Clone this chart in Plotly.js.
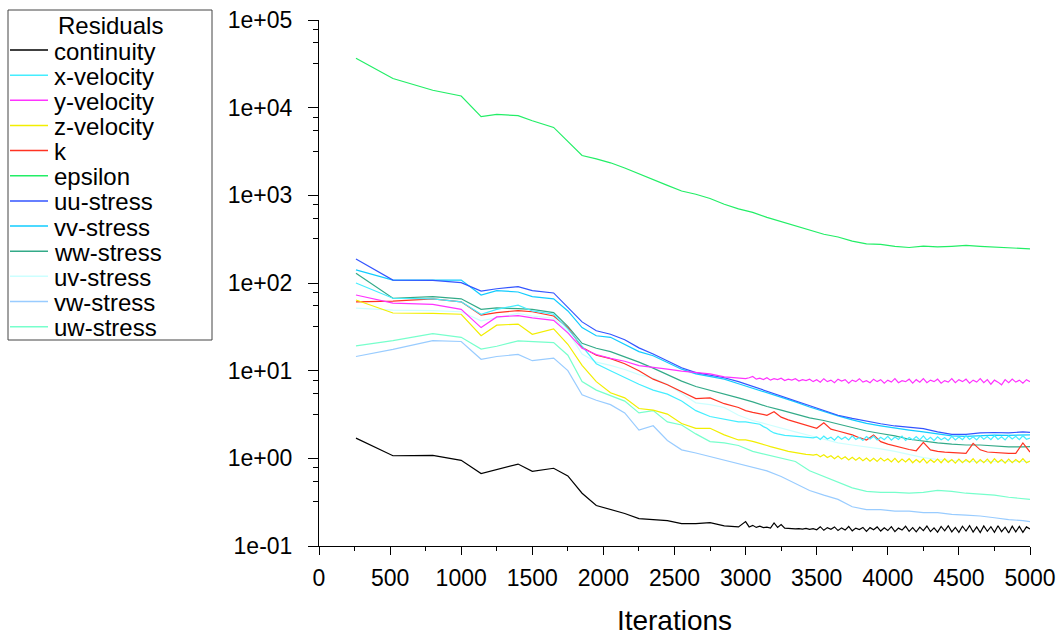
<!DOCTYPE html>
<html>
<head>
<meta charset="utf-8">
<script src="https://cdn.plot.ly/plotly-3.0.1.min.js"></script>
<style>
html,body{margin:0;padding:0;background:#ffffff;}
#chart{width:1059px;height:636px;}
</style>
</head>
<body>
<div id="chart"></div>
<script>
// ---------------- data ----------------
const seriesNames = ["continuity","x-velocity","y-velocity","z-velocity","k","epsilon",
  "uu-stress","vv-stress","ww-stress","uv-stress","vw-stress","uw-stress"];
const seriesColors = ["#000000","#44eeff","#ff33ff","#f2ee00","#ff3322","#22ee66",
  "#3355ff","#11ccff","#33aa88","#ccffff","#99ccff","#77ffcc"];

const yTickVals = [0.1, 1, 10, 100, 1000, 10000, 100000];
const yTickText = ["1e-01","1e+00","1e+01","1e+02","1e+03","1e+04","1e+05"];

// iterations for smooth residuals
const iterSmooth = [260,520,800,1000,1140,1250,1400,1500,1650,1750,1850,1950,2050,2150,2250,2350,2450,2550,2650,2750,2850,2950,
  3050,3150,3250,3350,3450,3550,3650,3750,3850,3950,4050,4150,4250,4350,4450,4550,4650,4750,4850,4950,5000];
// iterations for k (spiky tail)
const iterSpiky = [260,520,800,1000,1140,1250,1400,1500,1650,1750,1850,1950,2050,2150,2250,2350,2450,2550,2650,2750,2850,2950,
  3000,3050,3100,3150,3200,3250,3300,3350,3400,3450,3500,3550,3600,3650,3700,3750,3800,3850,3900,3950,
  4000,4050,4100,4150,4200,4250,4300,4350,4400,4450,4500,4550,4600,4650,4700,4750,4800,4850,4900,4950,5000];
// iterations for noisy residuals (fine tail)
const iterNoisy = [260,520,800,1000,1140,1250,1400,1500,1650,1750,1850,1950,2050,2150,2250,2350,2450,2550,2650,2750,2850,2950,
  3000,3025,3050,3075,3100,3125,3150,3175,3200,3225,3250,3275,3300,3325,3350,3375,3400,3425,3450,3475,
  3500,3525,3550,3575,3600,3625,3650,3675,3700,3725,3750,3775,3800,3825,3850,3875,3900,3925,3950,3975,
  4000,4025,4050,4075,4100,4125,4150,4175,4200,4225,4250,4275,4300,4325,4350,4375,4400,4425,4450,4475,
  4500,4525,4550,4575,4600,4625,4650,4675,4700,4725,4750,4775,4800,4825,4850,4875,4900,4925,4950,4975,5000];

const continuity = [1.70,1.07,1.08,0.95,0.67,0.75,0.86,0.71,0.77,0.63,0.40,0.29,0.26,0.235,0.205,0.20,0.195,0.18,0.18,0.185,0.17,0.165,
  0.19,0.165,0.172,0.163,0.168,0.162,0.164,0.160,0.183,0.163,0.176,0.160,0.158,0.159,0.157,0.158,0.156,0.159,0.155,0.158,
  0.153,0.166,0.151,0.162,0.155,0.165,0.150,0.161,0.152,0.167,0.149,0.160,0.154,0.163,0.147,0.162,0.153,0.165,0.148,0.161,
  0.150,0.166,0.146,0.160,0.152,0.168,0.147,0.162,0.145,0.164,0.150,0.169,0.146,0.161,0.144,0.167,0.149,0.170,0.145,0.163,
  0.143,0.168,0.148,0.171,0.144,0.165,0.142,0.169,0.147,0.166,0.143,0.170,0.146,0.164,0.141,0.168,0.145,0.167,0.143,0.165,0.156];
const xVelocity = [100,67,66,61,44,50,56,48,44,30,19,12,10,8.3,7.0,6.0,5.4,4.5,3.5,3.0,2.8,2.6,
  2.6,2.55,2.55,2.5,2.45,2.3,2.2,2.05,1.95,1.9,1.86,1.83,1.82,1.80,1.79,1.77,1.76,1.74,1.72,1.71,
  1.76,1.64,1.79,1.66,1.74,1.61,1.78,1.65,1.75,1.62,1.80,1.64,1.73,1.60,1.77,1.66,1.79,1.62,1.74,1.63,
  1.78,1.61,1.75,1.64,1.79,1.60,1.73,1.63,1.77,1.62,1.80,1.61,1.74,1.59,1.76,1.63,1.72,1.60,1.78,1.62,
  1.75,1.63,1.81,1.64,1.76,1.62,1.80,1.65,1.77,1.63,1.82,1.64,1.76,1.62,1.80,1.66,1.78,1.63,1.81,1.65,1.70];
const yVelocity = [73,59,57,50,31,41,42.5,40,37.5,27,18,15.3,13.8,12.8,11.4,10.8,10.4,9.9,9.5,9.2,8.5,8.3,
  8.1,8.3,8.6,8.0,8.2,7.9,8.3,7.8,8.1,7.9,8.2,7.7,8.0,7.8,8.1,7.6,7.9,7.7,8.0,7.5,
  7.9,7.4,8.1,7.5,7.8,7.3,8.0,7.6,7.9,7.2,7.8,7.5,8.1,7.4,7.7,7.3,8.0,7.5,7.9,7.2,
  7.8,7.4,8.1,7.3,7.7,7.5,8.0,7.2,7.9,7.4,8.1,7.3,7.8,7.5,8.0,7.2,7.7,7.4,8.1,7.3,
  7.9,7.5,8.0,7.2,7.8,7.4,8.1,7.3,7.9,7.0,7.8,7.4,6.9,7.9,7.3,8.0,7.4,7.8,7.2,7.9,7.5];
const zVelocity = [64,45.5,45,44,25,33,34,26,30,20,11.5,7.5,5.6,4.9,3.7,3.55,3.2,2.5,2.2,2.2,1.85,1.62,
  1.62,1.60,1.56,1.52,1.47,1.44,1.40,1.36,1.32,1.28,1.25,1.23,1.20,1.18,1.15,1.13,1.12,1.11,1.10,1.09,
  1.11,1.04,1.10,1.02,1.07,0.99,1.06,0.98,1.04,0.96,1.03,0.95,1.02,0.94,1.01,0.93,1.00,0.92,1.01,0.93,
  0.99,0.91,1.00,0.90,0.98,0.91,0.99,0.89,0.97,0.90,0.99,0.88,0.97,0.90,0.98,0.89,0.99,0.90,0.97,0.88,
  0.98,0.89,0.97,0.90,0.99,0.88,0.97,0.89,0.98,0.88,0.99,0.90,0.97,0.88,0.98,0.89,0.97,0.90,0.99,0.89,0.93];
const kResidual = [61,62,66,61,43,46,48.5,47,42,31,18.5,15,13.7,12,10,8,6.9,5.8,4.8,4.9,4.2,3.8,
  3.5,3.35,3.2,3.1,3.4,2.95,2.75,2.6,2.45,2.3,2.2,2.55,2.15,2.05,1.95,1.85,1.72,1.62,1.85,1.55,
  1.45,1.38,1.33,1.26,1.22,1.52,1.25,1.20,1.18,1.16,1.15,1.14,1.48,1.25,1.18,1.16,1.15,1.14,1.14,1.50,1.18];
const epsilon = [36600,21500,15800,13600,7900,8400,8100,7100,5950,4100,2850,2600,2350,2050,1750,1500,1300,1120,1030,920,790,700,
  640,560,500,450,395,360,335,300,280,276,262,254,264,258,262,268,262,256,250,246,245];
const uuStress = [188,108,107,101,81,86,91,82,77,52,36,28.5,26,22.5,18.2,15.5,12.8,10.8,9.5,8.8,8.3,7.5,
  6.6,5.8,5.1,4.5,3.95,3.5,3.1,2.85,2.65,2.48,2.34,2.25,2.18,2.0,1.88,1.88,1.95,1.97,1.95,2.0,1.98];
const vvStress = [141,108,108,108,73,82,79,70,66,48,31,25,24,20,16.5,14.8,12.3,10.4,9.2,8.6,8.0,7.1,
  6.3,5.6,5.0,4.4,3.85,3.4,3.05,2.75,2.5,2.35,2.2,2.1,2.0,1.9,1.8,1.78,1.82,1.84,1.83,1.86,1.85];
const wwStress = [129,67,70,66,50,52,51,50,46,32,20.5,18,16.5,14.5,12.5,10.7,9.0,7.6,6.6,6.0,5.4,4.9,
  4.4,3.9,3.55,3.2,2.9,2.7,2.45,2.25,2.05,1.92,1.8,1.65,1.56,1.5,1.45,1.42,1.42,1.38,1.35,1.35,1.36];
const uvStress = [51.6,49,48.5,47,37,40,45,42,39.6,28,15.5,12.5,11.5,10.3,9.0,8.2,7.0,5.5,4.3,4.1,3.8,3.1,
  2.7,2.45,2.2,2.0,1.82,1.65,1.5,1.42,1.36,1.28,1.2,1.1,1.02,0.97,0.94,0.92,0.92,0.92,0.93,0.92,0.92];
const vwStress = [14.5,17.5,22,21.5,13.5,14.5,15.3,13,13.9,10,5.3,4.6,4.1,3.3,2.1,2.35,1.6,1.25,1.15,1.05,0.95,0.88,
  0.8,0.72,0.62,0.52,0.43,0.38,0.34,0.28,0.26,0.26,0.25,0.25,0.24,0.24,0.23,0.225,0.22,0.21,0.2,0.195,0.19];
const uwStress = [19.2,22,26.5,24,17.6,19,21.9,21.5,20.9,15,7.5,6.0,5.2,4.5,3.3,3.5,2.6,2.4,1.9,1.55,1.5,1.4,
  1.2,1.1,1.0,0.92,0.72,0.62,0.53,0.46,0.42,0.41,0.41,0.40,0.41,0.43,0.42,0.40,0.39,0.38,0.36,0.345,0.34];

const seriesValues = [continuity,xVelocity,yVelocity,zVelocity,kResidual,epsilon,
  uuStress,vvStress,wwStress,uvStress,vwStress,uwStress];
const seriesIters = [iterNoisy,iterNoisy,iterNoisy,iterNoisy,iterSpiky,iterSmooth,
  iterSmooth,iterSmooth,iterSmooth,iterSmooth,iterSmooth,iterSmooth];

// ---------------- layout helpers ----------------
const W = 1059, H = 636;
const M = {l: 319, r: 29, t: 20, b: 90};
const PW = W - M.l - M.r, PH = H - M.t - M.b;
const fx = px => (px - M.l) / PW;
const fy = py => 1 - (py - M.t) / PH;
const FONT = "Liberation Sans, Arial, Helvetica, sans-serif";

const drawOrder = [11,10,9,8,7,6,4,3,1,2,5,0];
const traces = drawOrder.map(i => ({
  type: "scatter", mode: "lines",
  x: seriesIters[i], y: seriesValues[i],
  name: seriesNames[i],
  line: {color: seriesColors[i], width: 1.2},
  showlegend: false, hoverinfo: "x+y+name"
}));

// minor log ticks as placed on the reference axis
const minorY = [];
[0.1, 1, 10, 100, 1000, 10000].forEach(b => { minorY.push(b*3.2, b*5.5, b*7.8); });

// legend box (Fluent style), built from the series names/colours
const shapes = [{type: "rect", xref: "paper", yref: "paper",
  x0: fx(8), x1: fx(212), y0: fy(10), y1: fy(340),
  line: {color: "#444444", width: 1}, fillcolor: "rgba(0,0,0,0)"}];
const annotations = [{xref: "paper", yref: "paper", x: fx(110), y: fy(25),
  xanchor: "center", yanchor: "middle", showarrow: false, text: "Residuals",
  font: {family: FONT, size: 24, color: "#000"}}];
seriesNames.forEach((nm, i) => {
  const yy = 50 + i * 25.15;
  shapes.push({type: "line", xref: "paper", yref: "paper",
    x0: fx(10), x1: fx(48), y0: fy(yy), y1: fy(yy),
    line: {color: seriesColors[i], width: 1.5}});
  annotations.push({xref: "paper", yref: "paper", x: fx(52), y: fy(yy + 1),
    xanchor: "left", yanchor: "middle", showarrow: false, text: nm,
    font: {family: FONT, size: 24, color: "#000"}});
});

const layout = {
  width: W, height: H,
  margin: M,
  paper_bgcolor: "#ffffff", plot_bgcolor: "#ffffff",
  font: {family: FONT, size: 23, color: "#000"},
  showlegend: false,
  xaxis: {
    range: [0, 5000], tick0: 0, dtick: 500,
    showgrid: false, zeroline: false,
    showline: true, linecolor: "#000", linewidth: 1,
    ticks: "outside", ticklen: 8, tickwidth: 1, tickcolor: "#000",
    minor: {dtick: 250, ticks: "outside", ticklen: 4, tickcolor: "#000", showgrid: false},
    tickfont: {family: FONT, size: 23, color: "#000"},
    ticklabelstandoff: 3,
    title: {text: "Iterations", font: {family: FONT, size: 28, color: "#000"}, standoff: 20}
  },
  yaxis: {
    type: "log", range: [-1, 5],
    tickmode: "array", tickvals: yTickVals, ticktext: yTickText,
    showgrid: false, zeroline: false,
    showline: true, linecolor: "#000", linewidth: 1,
    ticks: "outside", ticklen: 10, tickwidth: 1, tickcolor: "#000",
    minor: {tickmode: "array", tickvals: minorY, ticks: "outside", ticklen: 5, tickcolor: "#000", showgrid: false},
    tickfont: {family: FONT, size: 23, color: "#000"},
    ticklabelstandoff: 11
  },
  shapes: shapes,
  annotations: annotations
};

Plotly.newPlot("chart", traces, layout, {displayModeBar: false, staticPlot: true});
</script>
</body>
</html>
